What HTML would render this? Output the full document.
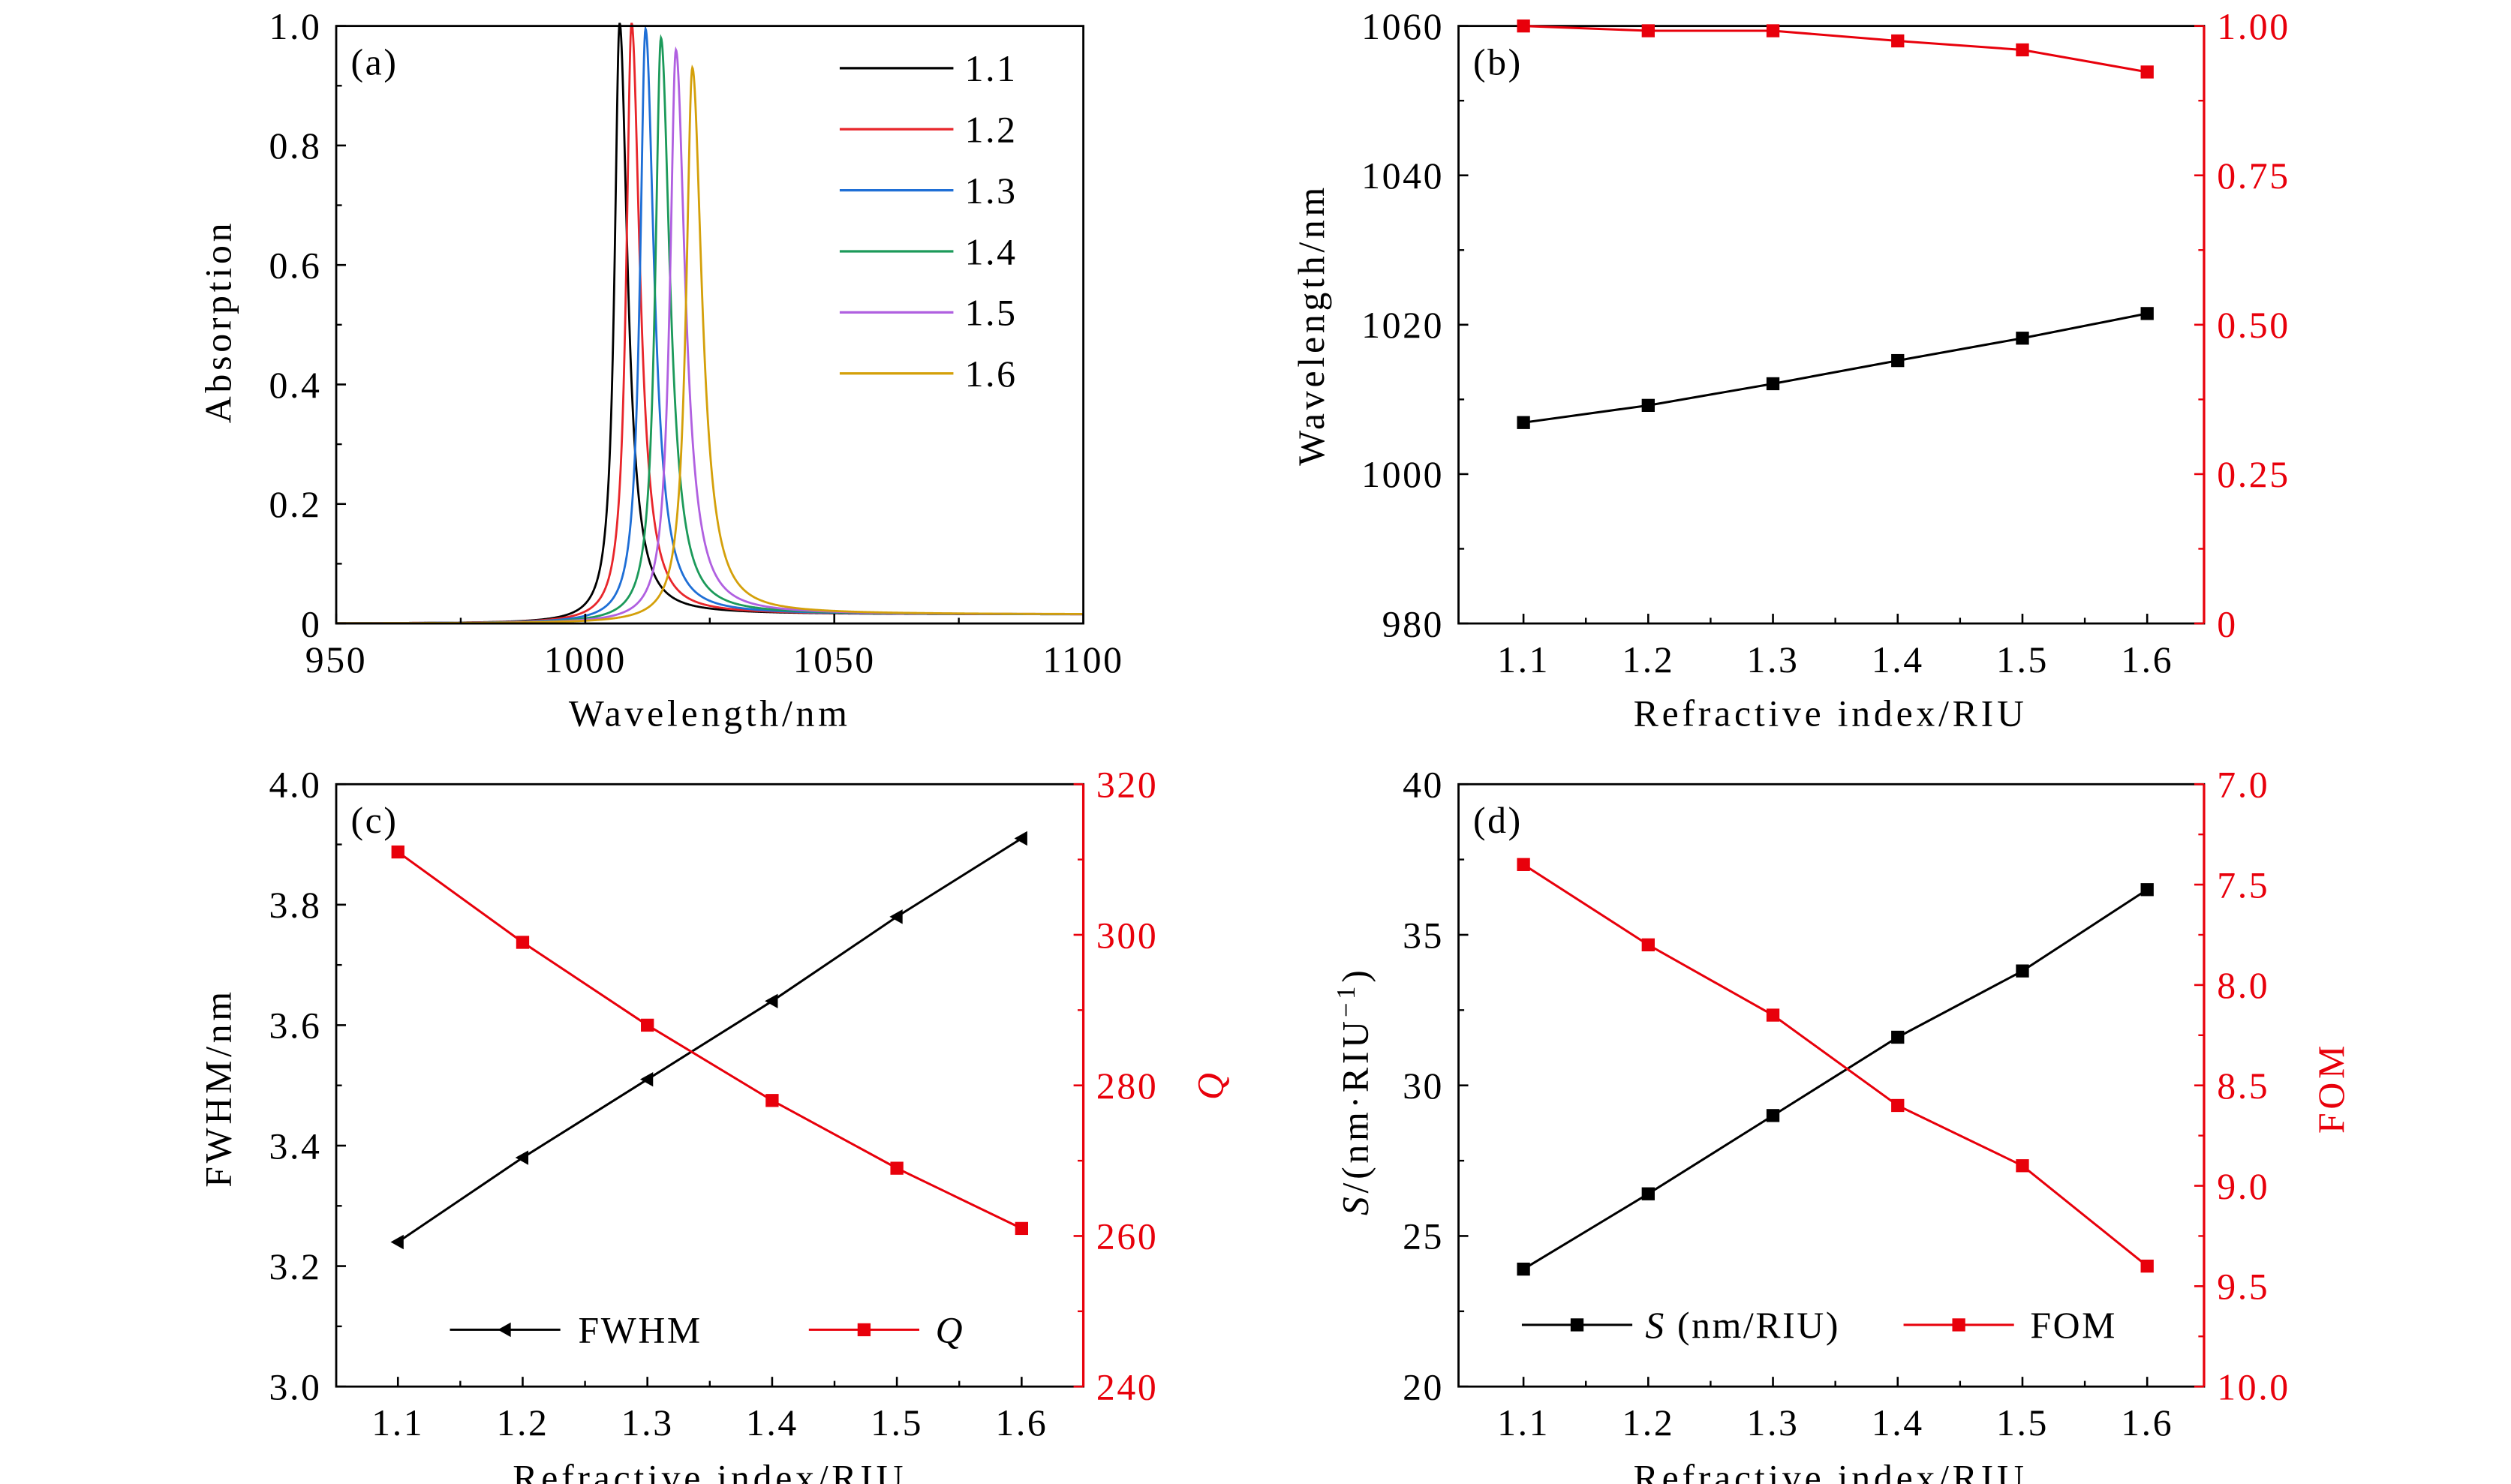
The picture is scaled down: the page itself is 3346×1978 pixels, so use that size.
<!DOCTYPE html>
<html><head><meta charset="utf-8"><style>
html,body{margin:0;padding:0;background:#fff;}
svg{display:block;}
text{font-family:"Liberation Serif",serif;}
</style></head>
<body>
<svg id="fig" width="3346" height="1978" viewBox="0 0 1546 914" preserveAspectRatio="none" xmlns="http://www.w3.org/2000/svg"></svg>
<script>
// ---- Panel (a) data: resonance parameters per refractive index ----
const aLabels = ["1.1","1.2","1.3","1.4","1.5","1.6"];
const aColors = ["#000000","#e8262b","#1f6fd6","#1c9a5a","#b060e0","#d4a00a"];
const aCenters = [1006.9, 1009.3, 1012.1, 1015.2, 1018.2, 1021.5];
const aHeights = [1.0, 1.0, 0.99, 0.975, 0.955, 0.925];
const aWidths = [3.24, 3.38, 3.51, 3.64, 3.78, 3.91];
const aBaseline = [0.015, 0.015, 0.015, 0.015, 0.015, 0.015];
const aXTicks = [950, 1000, 1050, 1100];
const aYTicks = [0, 0.2, 0.4, 0.6, 0.8, 1.0];
const aYTickLabels = ["0","0.2","0.4","0.6","0.8","1.0"];
// ---- Shared x categories ----
const riu = [1.1, 1.2, 1.3, 1.4, 1.5, 1.6];
const riuTicks = ["1.1","1.2","1.3","1.4","1.5","1.6"];
// ---- Panel (b) ----
const bWavelength = [1006.9, 1009.2, 1012.1, 1015.2, 1018.2, 1021.5];
const bAbsorption = [1.0, 0.992, 0.992, 0.975, 0.96, 0.923];
const bLeftTicks = [980, 1000, 1020, 1040, 1060];
const bRightTicks = [0, 0.25, 0.5, 0.75, 1.0];
const bRightTickLabels = ["0","0.25","0.50","0.75","1.00"];
// ---- Panel (c) ----
const cFWHM = [3.24, 3.38, 3.51, 3.64, 3.78, 3.91];
const cQ = [311, 299, 288, 278, 269, 261];
const cLeftTicks = [3.0, 3.2, 3.4, 3.6, 3.8, 4.0];
const cLeftTickLabels = ["3.0","3.2","3.4","3.6","3.8","4.0"];
const cRightTicks = [240, 260, 280, 300, 320];
// ---- Panel (d) ----
const dS = [23.9, 26.4, 29.0, 31.6, 33.8, 36.5];
const dFOM = [7.4, 7.8, 8.15, 8.6, 8.9, 9.4];
const dLeftTicks = [20, 25, 30, 35, 40];
const dRightTicks = [7.0, 7.5, 8.0, 8.5, 9.0, 9.5, 10.0];
const dRightTickLabels = ["7.0","7.5","8.0","8.5","9.0","9.5","10.0"];

const NS = "http://www.w3.org/2000/svg";
const svg = document.getElementById("fig");
function mk(tag, attrs, parent){
  const e = document.createElementNS(NS, tag);
  for (const k in attrs) e.setAttribute(k, attrs[k]);
  (parent||svg).appendChild(e);
  return e;
}
function txt(str, attrs, parent){
  const t = mk("text", attrs, parent);
  t.textContent = str;
  return t;
}
function lin(d0,d1,r0,r1){ return v => r0 + (v-d0)/(d1-d0)*(r1-r0); }

const FS = 23;
const LS = 1.2;
const TFS = 23;
const TLS = 2.2;
const RED = "#e8000b";

function frame(g, L, R, T, B, rightRed){
  const f = mk("rect",{x:L,y:T,width:R-L,height:B-T,fill:"none",stroke:"#000","stroke-width":1.3},g);
  
  
  if (rightRed){
    const r = mk("line",{x1:R,y1:T,x2:R,y2:B,stroke:RED,"stroke-width":1.5},g);
    
    
  }
}
function yTicks(g, ticks, labels, sy, x, side, color, minorCount){
  ticks.forEach((v,i)=>{
    const y = sy(v);
    const dir = side==="left"?1:-1;
    const l = mk("line",{x1:x,y1:y,x2:x+dir*6,y2:y,stroke:color,"stroke-width":1.2},g);
    
    
    const t = txt(labels[i],{x: side==="left"? x-9 : x+8, y:y+8, "font-size":FS, "letter-spacing":LS, fill:color, "text-anchor": side==="left"?"end":"start"},g);
    
    
    if (i<ticks.length-1 && minorCount){
      for (let m=1;m<=minorCount;m++){
        const ym = sy(v + (ticks[i+1]-v)*m/(minorCount+1));
        const ml = mk("line",{x1:x,y1:ym,x2:x+dir*3.5,y2:ym,stroke:color,"stroke-width":1.1},g);
        
        
      }
    }
  });
}
function xTicks(g, ticks, labels, sx, y, minor){
  ticks.forEach((v,i)=>{
    const x = sx(v);
    const l = mk("line",{x1:x,y1:y,x2:x,y2:y-6,stroke:"#000","stroke-width":1.2},g);
    
    
    const t = txt(labels[i],{x:x,y:y+30,"font-size":FS,"letter-spacing":LS,"text-anchor":"middle"},g);
    
    
    if (i<ticks.length-1 && minor){
      const xm = sx((v+ticks[i+1])/2);
      const ml = mk("line",{x1:xm,y1:y,x2:xm,y2:y-3.5,stroke:"#000","stroke-width":1.1},g);
      
      
    }
  });
}
function series(g, xs, ys, sx, sy, color, marker, name){
  const pts = xs.map((x,i)=>sx(x).toFixed(2)+","+sy(ys[i]).toFixed(2)).join(" ");
  const pl = mk("polyline",{points:pts,fill:"none",stroke:color,"stroke-width":1.4},g);
  
  
  xs.forEach((x,i)=>{
    const cx=sx(x), cy=sy(ys[i]);
    let m;
    if (marker==="tri"){
      m = mk("polygon",{points:`${cx-4.5},${cy} ${cx+3.5},${cy-4.5} ${cx+3.5},${cy+4.5}`,fill:color},g);
    } else {
      m = mk("rect",{x:cx-4,y:cy-4,width:8,height:8,fill:color},g);
    }
    
    
  });
}
function panelLabel(g, s, x, y){
  const t = txt(s,{x:x,y:y,"font-size":FS,"letter-spacing":LS},g);
  
  
}
function rotTitle(g, s, x, y, color, name){
  const t = txt(s,{x:x,y:y,"font-size":TFS,"letter-spacing":TLS,fill:color||"#000","text-anchor":"middle",transform:`rotate(-90 ${x} ${y})`},g);
  
  
  return t;
}
function xTitle(g, s, x, y){
  const t = txt(s,{x:x,y:y,"font-size":TFS,"letter-spacing":TLS,"text-anchor":"middle"},g);
  
  
}

// ================= Panel (a) =================
(function(){
  const g = mk("g",{});  
  const L=207,R=667,T=16,B=384;
  const sx = lin(950,1100,L,R), sy = lin(0,1,B,T);
  const clip = mk("clipPath",{id:"clipA"},g);
  mk("rect",{x:L,y:T-2,width:R-L,height:B-T+2},clip);
  const cg = mk("g",{"clip-path":"url(#clipA)"},g);
  aCenters.forEach((c,k)=>{
    const pts=[];
    for (let w=950; w<=1100; w+=0.1){
      const d = w-c;
      const gam = d<0 ? aWidths[k]*0.38 : aWidths[k]*0.6;
      let v = aHeights[k]/(1+(d/gam)*(d/gam));
      v += aBaseline[k]/(1+Math.exp(-(w-c-4)/6));
      pts.push(sx(w).toFixed(2)+","+sy(v).toFixed(2));
    }
    const p = mk("polyline",{points:pts.join(" "),fill:"none",stroke:aColors[k],"stroke-width":1.3},cg);
    
    
  });
  frame(g,L,R,T,B,false);
  yTicks(g,aYTicks,aYTickLabels,sy,L,"left","#000",1);
  xTicks(g,aXTicks,aXTicks.map(String),sx,B,true);
  panelLabel(g,"(a)",216,46);
  rotTitle(g,"Absorption",142,198,"#000","y-axis-title");
  xTitle(g,"Wavelength/nm",437,447);
  aLabels.forEach((lb,k)=>{
    const y = 42 + k*37.6;
    const l = mk("line",{x1:517,y1:y,x2:587,y2:y,stroke:aColors[k],"stroke-width":1.5},g);
    
    
    const t = txt(lb,{x:594,y:y+8,"font-size":FS,"letter-spacing":LS},g);
    
    
  });
})();

// ================= Panel (b) =================
(function(){
  const g = mk("g",{});  
  const L=898,R=1357,T=16,B=384;
  const sx = lin(1.1,1.6,938,1322), sy = lin(980,1060,B,T), sy2 = lin(0,1,B,T);
  frame(g,L,R,T,B,true);
  yTicks(g,bLeftTicks,bLeftTicks.map(String),sy,L,"left","#000",1);
  yTicks(g,bRightTicks,bRightTickLabels,sy2,R,"right",RED,1);
  xTicks(g,riu,riuTicks,sx,B,true);
  series(g,riu,bWavelength,sx,sy,"#000","sq","wavelength");
  series(g,riu,bAbsorption,sx,sy2,RED,"sq","absorption");
  panelLabel(g,"(b)",907,46);
  rotTitle(g,"Wavelength/nm",815,200,"#000","y-axis-title");
  xTitle(g,"Refractive index/RIU",1127,447);
})();

// ================= Panel (c) =================
(function(){
  const g = mk("g",{});  
  const L=207,R=667,T=483,B=854;
  const sx = lin(1.1,1.6,245,629), sy = lin(3.0,4.0,B,T), sy2 = lin(240,320,B,T);
  frame(g,L,R,T,B,true);
  yTicks(g,cLeftTicks,cLeftTickLabels,sy,L,"left","#000",1);
  yTicks(g,cRightTicks,cRightTicks.map(String),sy2,R,"right",RED,1);
  xTicks(g,riu,riuTicks,sx,B,true);
  series(g,riu,cFWHM,sx,sy,"#000","tri","fwhm");
  series(g,riu,cQ,sx,sy2,RED,"sq","q");
  panelLabel(g,"(c)",216,513);
  rotTitle(g,"FWHM/nm",142,670,"#000","y-axis-title");
  const q = rotTitle(g,"Q",753,668,RED,"right-y-axis-title"); q.setAttribute("font-style","italic");
  xTitle(g,"Refractive index/RIU",437,918);
  const l1 = mk("line",{x1:277,y1:819,x2:345,y2:819,stroke:"#000","stroke-width":1.4},g);
   
  const m1 = mk("polygon",{points:"306.5,819 314.5,814.5 314.5,823.5",fill:"#000"},g);
   
  const t1 = txt("FWHM",{x:356,y:827,"font-size":FS,"letter-spacing":LS},g);
   
  const l2 = mk("line",{x1:498,y1:819,x2:566,y2:819,stroke:RED,"stroke-width":1.4},g);
   
  const m2 = mk("rect",{x:528,y:815,width:8,height:8,fill:RED},g);
   
  const t2 = txt("Q",{x:576,y:827,"font-size":FS,"font-style":"italic"},g);
   
})();

// ================= Panel (d) =================
(function(){
  const g = mk("g",{});  
  const L=898,R=1357,T=483,B=854;
  const sx = lin(1.1,1.6,938,1322), sy = lin(20,40,B,T), sy2 = lin(7,10,T,B);
  frame(g,L,R,T,B,true);
  yTicks(g,dLeftTicks,dLeftTicks.map(String),sy,L,"left","#000",1);
  yTicks(g,dRightTicks,dRightTickLabels,sy2,R,"right",RED,1);
  xTicks(g,riu,riuTicks,sx,B,true);
  series(g,riu,dS,sx,sy,"#000","sq","sensitivity");
  series(g,riu,dFOM,sx,sy2,RED,"sq","fom");
  panelLabel(g,"(d)",907,513);
  const yt = rotTitle(g,"",842,672,"#000","y-axis-title");
  const s1 = document.createElementNS(NS,"tspan"); s1.setAttribute("font-style","italic"); s1.textContent="S"; yt.appendChild(s1);
  const s2 = document.createElementNS(NS,"tspan"); s2.textContent="/(nm·RIU"; yt.appendChild(s2);
  const s3 = document.createElementNS(NS,"tspan"); s3.setAttribute("font-size","16"); s3.setAttribute("dy","-8"); s3.textContent="−1"; yt.appendChild(s3);
  const s4 = document.createElementNS(NS,"tspan"); s4.setAttribute("dy","8"); s4.textContent=")"; yt.appendChild(s4);
  rotTitle(g,"FOM",1443,670,RED,"right-y-axis-title");
  xTitle(g,"Refractive index/RIU",1127,918);
  const l1 = mk("line",{x1:937,y1:816,x2:1005,y2:816,stroke:"#000","stroke-width":1.4},g);
   
  const m1 = mk("rect",{x:967,y:812,width:8,height:8,fill:"#000"},g);
   
  const t1 = txt("",{x:1013,y:824,"font-size":FS,"letter-spacing":LS},g);
   
  const a = document.createElementNS(NS,"tspan"); a.setAttribute("font-style","italic"); a.textContent="S"; t1.appendChild(a);
  const b = document.createElementNS(NS,"tspan"); b.textContent=" (nm/RIU)"; t1.appendChild(b);
  const l2 = mk("line",{x1:1172,y1:816,x2:1240,y2:816,stroke:RED,"stroke-width":1.4},g);
   
  const m2 = mk("rect",{x:1202,y:812,width:8,height:8,fill:RED},g);
   
  const t2 = txt("FOM",{x:1250,y:824,"font-size":FS,"letter-spacing":LS},g);
   
})();
</script>
</body></html>
